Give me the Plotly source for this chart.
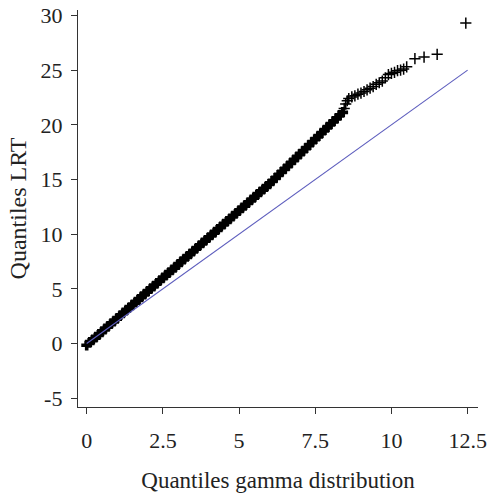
import plotly.graph_objects as go

# Dense part of the QQ points
qx_dense = [0.0, 0.1, 0.2, 0.3, 0.4, 0.5, 0.6, 0.7, 0.8, 0.9,
            1.0, 1.1, 1.2, 1.3, 1.4, 1.5, 1.6, 1.7, 1.8, 1.9,
            2.0, 2.1, 2.2, 2.3, 2.4, 2.5, 2.6, 2.7, 2.8, 2.9,
            3.0, 3.1, 3.2, 3.3, 3.4, 3.5, 3.6, 3.7, 3.8, 3.9,
            4.0, 4.1, 4.2, 4.3, 4.4, 4.5, 4.6, 4.7, 4.8, 4.9,
            5.0, 5.1, 5.2, 5.3, 5.4, 5.5, 5.6, 5.7, 5.8, 5.9,
            6.0, 6.1, 6.2, 6.3, 6.4, 6.5, 6.6, 6.7, 6.8, 6.9,
            7.0, 7.1, 7.2, 7.3, 7.4, 7.5, 7.6, 7.7, 7.8, 7.9,
            8.0, 8.1, 8.2, 8.3, 8.4]
qy_dense = [-0.15, 0.10, 0.34, 0.59, 0.83, 1.08, 1.33, 1.57, 1.82, 2.06,
            2.31, 2.56, 2.80, 3.05, 3.29, 3.54, 3.79, 4.03, 4.28, 4.52,
            4.77, 5.02, 5.26, 5.51, 5.75, 6.00, 6.25, 6.49, 6.74, 6.98,
            7.23, 7.48, 7.72, 7.97, 8.21, 8.46, 8.71, 8.95, 9.20, 9.44,
            9.69, 9.94, 10.18, 10.43, 10.67, 10.92, 11.17, 11.41, 11.66, 11.90,
            12.15, 12.40, 12.64, 12.89, 13.13, 13.38, 13.63, 13.87, 14.12, 14.36,
            14.61, 14.88, 15.15, 15.43, 15.70, 15.97, 16.24, 16.51, 16.79, 17.06,
            17.33, 17.60, 17.87, 18.15, 18.42, 18.69, 18.96, 19.23, 19.51, 19.78,
            20.05, 20.32, 20.59, 20.87, 21.14]

# Upper tail of the QQ points
qx_tail = [8.45, 8.5, 8.55, 8.6, 8.7, 8.8, 8.9, 9.0, 9.1, 9.2, 9.3, 9.4, 9.5,
           9.6, 9.7, 9.8, 9.9, 10.0, 10.1, 10.2, 10.3, 10.4, 10.5,
           10.77, 11.07, 11.5, 12.44]
qy_tail = [21.5, 21.9, 22.2, 22.4, 22.55, 22.65, 22.8, 22.9, 23.05, 23.2, 23.35, 23.5, 23.7,
           23.85, 24.0, 24.3, 24.6, 24.7, 24.8, 24.95, 25.0, 25.1, 25.3,
           26.05, 26.2, 26.45, 29.3]

# Reference line
ref_x = [0, 12.5]
ref_y = [0, 25]

x_ticks = [0, 2.5, 5, 7.5, 10, 12.5]
y_ticks = [-5, 0, 5, 10, 15, 20, 25, 30]

font_family = "Liberation Serif"
txt_color = "#222222"

fig = go.Figure()
# dense band: bold crosses so the thousands of overlapping points read as a solid band
fig.add_trace(go.Scatter(
    x=qx_dense, y=qy_dense, mode="markers",
    marker=dict(symbol="cross", size=9, color="black", line=dict(width=0)),
    showlegend=False, hoverinfo="skip"))
fig.add_trace(go.Scatter(
    x=qx_tail, y=qy_tail, mode="markers",
    marker=dict(symbol="cross-thin", size=8, line=dict(color="black", width=1.5)),
    showlegend=False, hoverinfo="skip"))
fig.add_trace(go.Scatter(
    x=ref_x, y=ref_y, mode="lines",
    line=dict(color="#5e5ebe", width=1.1), showlegend=False, hoverinfo="skip"))

axis_common = dict(showgrid=False, zeroline=False, showline=True, linecolor="#333333",
                   linewidth=1.3, ticks="outside", ticklen=6, tickwidth=1.3,
                   tickcolor="#333333", automargin=False,
                   tickfont=dict(family=font_family, size=22, color=txt_color))

fig.update_xaxes(range=[-0.285, 12.84], tickvals=x_ticks,
                 ticktext=[f"{v:g}" for v in x_ticks], ticklabelstandoff=7,
                 title=dict(text="Quantiles gamma distribution", standoff=20,
                            font=dict(family=font_family, size=23, color=txt_color)),
                 **axis_common)
fig.update_yaxes(range=[-5.8, 30.5], tickvals=y_ticks,
                 ticktext=[f"{v:g}" for v in y_ticks], ticklabelstandoff=4,
                 title=dict(text="Quantiles LRT", standoff=7,
                            font=dict(family=font_family, size=24, color=txt_color)),
                 **axis_common)

fig.update_layout(width=490, height=494, plot_bgcolor="white", paper_bgcolor="white",
                  margin=dict(l=78, r=12, t=10, b=87), font=dict(family=font_family))

# remove the browser's default body margin so the figure fills the window exactly
fig.write_html("out.html", config={"displayModeBar": False},
               post_script="document.body.style.margin='0px';")
